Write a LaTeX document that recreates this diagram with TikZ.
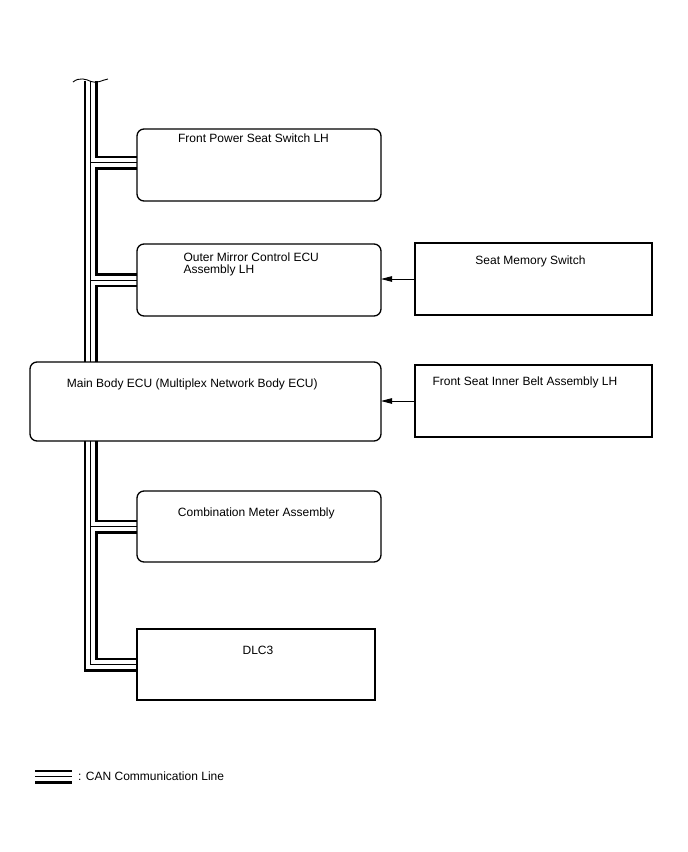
\documentclass[tikz,border=0pt]{standalone}
\usepackage{fontspec}
\setmainfont{Liberation Sans}
\usetikzlibrary{arrows.meta, positioning, backgrounds}

\begin{document}
\begin{tikzpicture}[
        x=1pt, y=-1pt,
        ecubox/.style={draw, line width=1.3pt, rounded corners=7pt, anchor=north west, inner sep=0pt, outer sep=0pt},
        plainbox/.style={draw, line width=1.2pt, anchor=north west, inner sep=0pt, outer sep=0pt},
        etiqueta/.style={inner sep=0pt, align=left, font=\fontsize{12pt}{12pt}\selectfont},
        canbus/.style={draw=black, line width=14pt, postaction={draw=white, line width=9pt, postaction={draw=black, line width=0.8pt}}},
        flecha/.style={-{Triangle[length=11pt, width=5.5pt]}, line width=0.9pt}
    ]
    \useasboundingbox (0,0) rectangle (688,852);

    % boxes
    \node[ecubox, minimum width=244pt, minimum height=72pt] (fpss) at (137,129) {};
    \node[ecubox, minimum width=244pt, minimum height=72pt] (omc) at (137,244) {};
    \node[plainbox, minimum width=237pt, minimum height=72pt] (sms) at (415,243) {};
    \node[ecubox, minimum width=351pt, minimum height=79pt] (ecu) at (30,362) {};
    \node[plainbox, minimum width=237pt, minimum height=72pt] (fsib) at (415,365) {};
    \node[ecubox, minimum width=244pt, minimum height=71pt] (cma) at (137,491) {};
    \node[plainbox, minimum width=238pt, minimum height=71pt] (dlc) at (137,629) {};

    % texts
    \node[etiqueta, anchor=base] (fpsstxt) at (253.5,142) {Front Power Seat Switch LH};
    \node[etiqueta, anchor=base west] (omctxt) at (183.3,273.3) {Outer Mirror Control ECU\\Assembly LH};
    \node[etiqueta, anchor=base] (smstxt) at (530.5,264) {Seat Memory Switch};
    \node[etiqueta, anchor=base west] (ecutxt) at (66.7,387) {Main Body ECU (Multiplex Network Body ECU)};
    \node[etiqueta, anchor=base west] (fsibtxt) at (432.3,385) {Front Seat Inner Belt Assembly LH};
    \node[etiqueta, anchor=base] (cmatxt) at (256.3,516) {Combination Meter Assembly};
    \node[etiqueta, anchor=base] (dlctxt) at (258,654.3) {DLC3};

    % CAN bus
    \coordinate (bustop) at (90.5,81);
    \coordinate (fpssin) at ([yshift=2.5pt]fpss.west);
    \begin{pgfonlayer}{background}
        \path[canbus] (bustop) -- (bustop |- ecu.north)
            (bustop |- fpssin) -- (fpssin)
            (bustop |- omc.west) -- (omc.west)
            (bustop |- ecu.south) -- (bustop |- dlc.west) -- (dlc.west)
            (bustop |- cma.west) -- (cma.west);
    \end{pgfonlayer}
    \draw[line width=0.9pt] (73,82) .. controls (79,77) and (86,79) .. (91,81.5) .. controls (97,84) and (102,80) .. (108,79);

    % arrows
    \draw[flecha] (sms.west) -- (omc.east |- sms.west);
    \draw[flecha] (fsib.west) -- (ecu.east |- fsib.west);

    % legend
    \coordinate (leg1) at (35,776.5);
    \coordinate (leg2) at (72,776.5);
    \path[canbus] (leg1) -- (leg2);
    \node[etiqueta, anchor=west] (legtxt) at (78,776.5) {: CAN Communication Line};
\end{tikzpicture}
\end{document}
